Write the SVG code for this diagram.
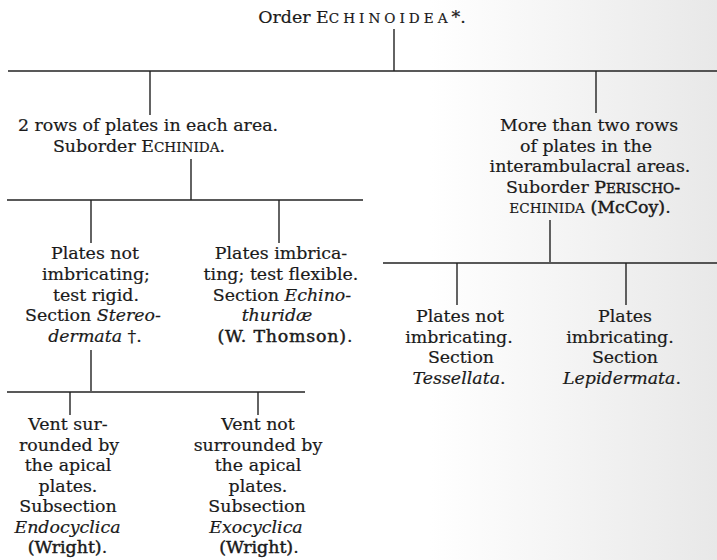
<svg xmlns="http://www.w3.org/2000/svg" width="717" height="560" viewBox="0 0 717 560">
<defs>
<linearGradient id="bg" x1="0" y1="0" x2="1" y2="0">
<stop offset="0" stop-color="#ffffff"/>
<stop offset="0.6" stop-color="#ffffff"/>
<stop offset="1" stop-color="#e8e8e8"/>
</linearGradient>
<style>
text{font-family:"DejaVu Serif","Liberation Serif",serif;font-size:17.4px;fill:#1a1a1a;stroke:#1a1a1a;stroke-width:0.2;text-anchor:middle}
.sc{font-size:13.6px}
.ls{letter-spacing:4px}
.it{font-style:italic}
.hv{stroke-width:0.45}
.wd{letter-spacing:0.8px}
#connectors path{stroke:#222;stroke-width:1.4;fill:none}
</style>
</defs>
<rect width="717" height="560" fill="url(#bg)"/>
<g id="connectors">
<path d="M394 29V71"/>
<path d="M8 71H717"/>
<path d="M150 71V115"/>
<path d="M596 71V113"/>
<path d="M191 159V200"/>
<path d="M7 200H363"/>
<path d="M91 200V243"/>
<path d="M279 200V243"/>
<path d="M550 220V262"/>
<path d="M383 263H717"/>
<path d="M457 263V305"/>
<path d="M626 263V305"/>
<path d="M91 350V391"/>
<path d="M7 392H305"/>
<path d="M70 392V415"/>
<path d="M258 392V415"/>
</g>
<g id="order">
<text x="362" y="23">Order E<tspan class="sc ls">CHINOIDEA</tspan>*.</text>
</g>
<g id="echinida">
<text x="148" y="131">2 rows of plates in each area.</text>
<text x="139" y="152">Suborder E<tspan class="sc">CHINIDA</tspan>.</text>
</g>
<g id="perischoechinida">
<text x="589" y="131">More than two rows</text>
<text x="586" y="152">of plates in the</text>
<text x="590" y="172">interambulacral areas.</text>
<text x="593" y="193">Suborder <tspan class="hv">P</tspan><tspan class="sc hv">ERISCHO</tspan><tspan class="hv">-</tspan></text>
<text x="590" y="213"><tspan class="sc">ECHINIDA</tspan> <tspan class="hv">(McCoy)</tspan>.</text>
</g>
<g id="stereodermata">
<text x="95" y="259">Plates not</text>
<text x="96" y="280">imbricating;</text>
<text x="96" y="301">test rigid.</text>
<text x="93" y="321">Section <tspan class="it">Stereo-</tspan></text>
<text x="95" y="342"><tspan class="it">dermata</tspan> †.</text>
</g>
<g id="echinothuridae">
<text x="281" y="259">Plates imbrica-</text>
<text x="281" y="280">ting; test flexible.</text>
<text x="282" y="301">Section <tspan class="it">Echino-</tspan></text>
<text x="277" y="321" class="it">thuridæ</text>
<text x="285" y="342"><tspan class="hv wd">(W. Thomson)</tspan>.</text>
</g>
<g id="tessellata">
<text x="460" y="322">Plates not</text>
<text x="459" y="343">imbricating.</text>
<text x="461" y="363">Section</text>
<text x="459" y="384"><tspan class="it">Tessellata</tspan>.</text>
</g>
<g id="lepidermata">
<text x="625" y="322">Plates</text>
<text x="620" y="343">imbricating.</text>
<text x="625" y="363">Section</text>
<text x="622" y="384"><tspan class="it">Lepidermata</tspan>.</text>
</g>
<g id="endocyclica">
<text x="68" y="430">Vent sur-</text>
<text x="69" y="450.5">rounded by</text>
<text x="68" y="471">the apical</text>
<text x="68" y="491.5">plates.</text>
<text x="68" y="512">Subsection</text>
<text x="67.5" y="532.5" class="it">Endocyclica</text>
<text x="67.5" y="553"><tspan class="hv">(Wright)</tspan>.</text>
</g>
<g id="exocyclica">
<text x="258" y="430">Vent not</text>
<text x="258" y="450.5">surrounded by</text>
<text x="258" y="471">the apical</text>
<text x="258" y="491.5">plates.</text>
<text x="257" y="512">Subsection</text>
<text x="256" y="532.5" class="it">Exocyclica</text>
<text x="259" y="553"><tspan class="hv">(Wright)</tspan>.</text>
</g>
</svg>
